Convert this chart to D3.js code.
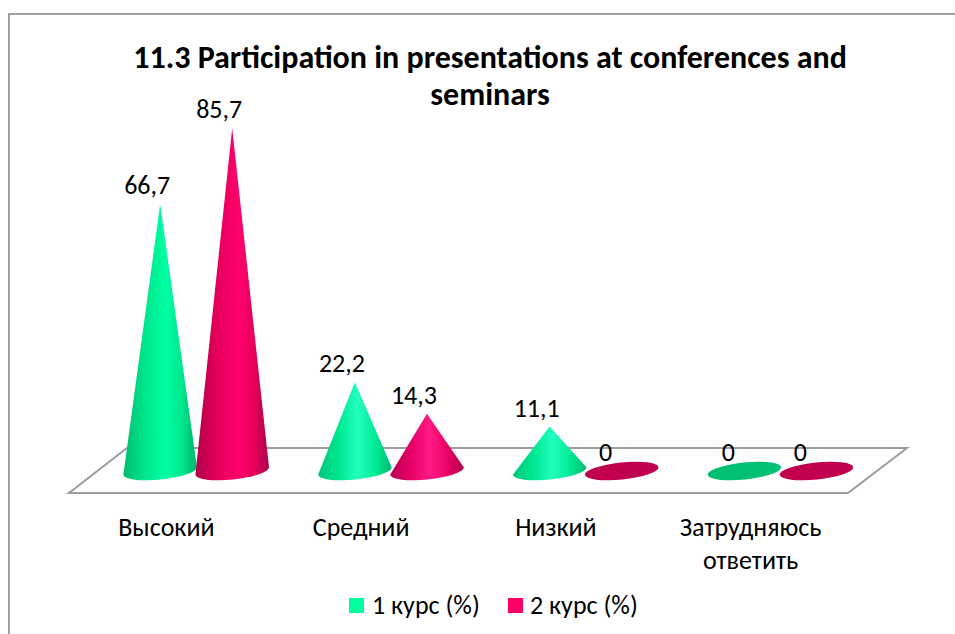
<!DOCTYPE html>
<html><head><meta charset="utf-8">
<script src="https://cdn.jsdelivr.net/npm/d3@7/dist/d3.min.js"></script>
<style>html,body{margin:0;padding:0;background:#fff}svg{display:block}text{font-family:Carlito,Lato,"Open Sans",sans-serif;fill:#000}</style>
</head><body><svg id="c" width="955" height="634"></svg>
<script>
const chartTitle=["11.3 Participation in presentations at conferences and","seminars"];
const categories=["Высокий","Средний","Низкий","Затрудняюсь ответить"];
const series1Name="1 курс (%)";
const series2Name="2 курс (%)";
const series1=[66.7,22.2,11.1,0];
const series2=[85.7,14.3,0,0];
const labels1=["66,7","22,2","11,1","0"];
const labels2=["85,7","14,3","0","0"];

const svg=d3.select("#c");
const defs=svg.append("defs");
const y=d3.scaleLinear().domain([0,100]).range([471,71]);
const x0=d3.scaleBand().domain(categories).range([69,848]);
const bw=x0.bandwidth();
const x1=d3.scaleBand().domain([0,1]).range([bw*0.283,bw*1.023]);
const cx=(i,s)=>x0(categories[i])+x1(s)+x1.bandwidth()/2;
const rx=37,ry=8.5,rot=-6;

// frame: top and left edges only
svg.append("path").attr("d","M9,634V14H955").attr("fill","none").attr("stroke","#a0a0a0").attr("stroke-width",2);

// floor
svg.append("path").attr("d","M69,493H848L907,448H127Z").attr("fill","#fff").attr("stroke","#9c9c9c").attr("stroke-width",2);

function grad(id,stops){
  const g=defs.append("linearGradient").attr("id",id).attr("x1",0).attr("x2",1).attr("y1",0).attr("y2",0);
  stops.forEach(s=>g.append("stop").attr("offset",s[0]).attr("stop-color",s[1]));
}
grad("g1",[[0,"#00bd70"],[.3,"#00e78c"],[.58,"#00ffa4"],[.8,"#00e68c"],[1,"#00b56b"]]);
grad("g2",[[0,"#b00049"],[.3,"#e6005c"],[.58,"#ff006c"],[.8,"#e6005c"],[1,"#a80047"]]);
grad("g1s",[[0,"#00c578"],[.3,"#00eb94"],[.54,"#22ffc0"],[.78,"#00eb94"],[1,"#00b870"]]);
grad("g2s",[[0,"#b80050"],[.3,"#ea0068"],[.54,"#ff1a85"],[.78,"#ea0068"],[1,"#b00049"]]);

function drawSeries(vals,labs,s,flat,full,small){
  const g=svg.append("g");
  vals.forEach((v,i)=>{
    const c=cx(i,s),b=y(0),t=y(v);
    const a=rot*Math.PI/180, dx=rx*Math.cos(a), dy=rx*Math.sin(a);
    if(v===0){
      g.append("ellipse").attr("cx",c).attr("cy",b).attr("rx",rx).attr("ry",ry)
       .attr("transform",`rotate(${rot} ${c} ${b})`).attr("fill",flat);
    } else {
      const fill=v<30?small:full;
      g.append("path").attr("d",`M${c},${t}L${c-dx},${b-dy}A${rx},${ry} ${rot} 0 0 ${c+dx},${b+dy}Z`)
       .attr("fill",`url(#${fill})`);
    }
    g.append("text").attr("x",c-(v===0?16:13)).attr("y",t-10).attr("text-anchor","middle")
     .attr("font-size",26).text(labs[i]);
  });
}
drawSeries(series1,labels1,0,"#00c073","g1","g1s");
drawSeries(series2,labels2,1,"#c0004f","g2","g2s");

// title
svg.append("g").selectAll("text").data(chartTitle).join("text")
  .attr("x",490).attr("y",(d,i)=>68+i*37).attr("text-anchor","middle")
  .attr("font-size",32).attr("font-weight",700).text(d=>d);

// category axis
categories.forEach(c=>{
  const words=c.split(" ");
  const t=svg.append("text").attr("text-anchor","middle").attr("font-size",26);
  words.forEach((w,i)=>t.append("tspan").attr("x",x0(c)+bw/2).attr("y",536+i*33).text(w));
});

// legend
const leg=[[series1Name,"#00ff9c",349,372],[series2Name,"#ff0066",508,530]];
leg.forEach(l=>{
  svg.append("rect").attr("x",l[2]).attr("y",598).attr("width",15).attr("height",15).attr("fill",l[1]);
  svg.append("text").attr("x",l[3]).attr("y",614).attr("font-size",26).text(l[0]);
});
</script></body></html>
